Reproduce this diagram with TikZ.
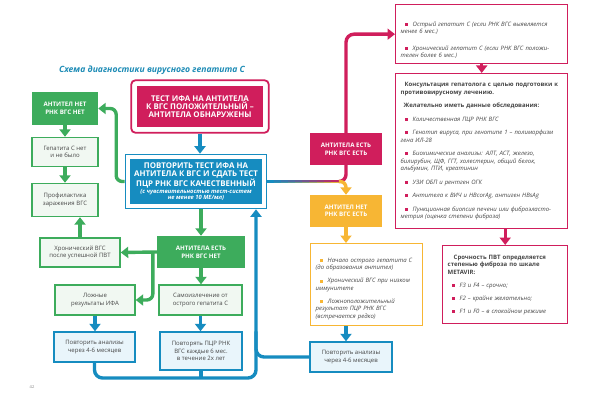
\documentclass[tikz,border=0pt]{standalone}
\usepackage{fontspec}
\setmainfont{Open Sans}
\usetikzlibrary{arrows.meta,positioning,fit,calc}
\definecolor{mygreen}{RGB}{61,172,92}
\definecolor{mylightgreen}{RGB}{241,248,242}
\definecolor{myblue}{RGB}{22,140,192}
\definecolor{mylightblue}{RGB}{233,245,251}
\definecolor{mypink}{RGB}{208,30,92}
\definecolor{myorange}{RGB}{247,182,52}
\definecolor{mytitle}{RGB}{30,140,182}
\definecolor{mytext}{RGB}{70,70,70}

\newcommand{\bitem}[2][mypink]{\par\hangindent=12pt\hangafter=1\noindent
  \makebox[12pt][l]{\hspace{4pt}\textcolor{#1}{\rule[0.4pt]{3pt}{3pt}}}#2\par}

\begin{document}
\begin{tikzpicture}[
  x=1pt, y=-1pt,
  bigfont/.style={font=\bfseries\fontsize{7.9}{8.3}\selectfont},
  pinkfill/.style={fill=mypink, text=white, align=center, bigfont},
  pinkframe/.style={draw=mypink, line width=1.8pt, rounded corners=4pt, inner sep=5.5pt},
  bluefill/.style={fill=myblue, text=white, align=center, bigfont},
  blueframe/.style={draw=myblue, line width=1.2pt, inner sep=4.5pt},
  greenfill/.style={fill=mygreen, text=white, align=center,
    font=\bfseries\fontsize{6.2}{7.6}\selectfont},
  greenbox/.style={draw=mygreen, line width=1.4pt, fill=mylightgreen, text=mytext,
    align=center, font=\fontsize{6}{7.6}\selectfont},
  bluebox/.style={draw=myblue, line width=1.4pt, fill=mylightblue, text=mytext,
    align=center, font=\fontsize{6}{7.6}\selectfont},
  orangefill/.style={fill=myorange, text=white, align=center,
    font=\bfseries\fontsize{6.2}{7.6}\selectfont},
  listbox/.style={draw=#1, line width=1.4pt, fill=white, text=mytext,
    anchor=north west, inner sep=5pt, font=\itshape\fontsize{6}{7.5}\selectfont,
    execute at begin node={\raggedright\setlength{\parskip}{6pt}}},
  garrow/.style={draw=mygreen, line width=3.4pt, -{Triangle[width=11pt,length=7.5pt]}},
  barrow/.style={draw=myblue, line width=3.4pt, -{Triangle[width=11pt,length=7.5pt]}},
  parrow/.style={draw=mypink, line width=3.4pt, -{Triangle[width=11pt,length=7.5pt]}},
  oarrow/.style={draw=myorange, line width=3.4pt, -{Triangle[width=11pt,length=7.5pt]}},
  bline/.style={draw=myblue, line width=3.4pt}
]
\useasboundingbox (0,0) rectangle (604,406);
\fill[white] (0,0) rectangle (604,406);

\node[font=\bfseries\itshape\fontsize{8.6}{10}\selectfont, text=mytitle] (title) at (152,70)
  {Схема диагностики вирусного гепатита С};

% top of the scheme
\node[pinkfill, minimum width=126pt, minimum height=41pt] (ifa) at (200,106.5)
  {ТЕСТ ИФА НА АНТИТЕЛА\\К ВГС ПОЛОЖИТЕЛЬНЫЙ –\\АНТИТЕЛА ОБНАРУЖЕНЫ};
\node[pinkframe, fit=(ifa)] (ifaf) {};

\node[bluefill, minimum width=132pt, minimum height=45pt] (main) at (196,181.5)
  {ПОВТОРИТЬ ТЕСТ ИФА НА\\АНТИТЕЛА К ВГС И СДАТЬ ТЕСТ\\ПЦР РНК ВГС КАЧЕСТВЕННЫЙ\\[-1.5pt]
   {\itshape\fontsize{5.8}{6.6}\selectfont (с чувствительностью тест-систем}\\[-1.8pt]
   {\itshape\fontsize{5.8}{6.6}\selectfont не менее 10 МЕ/мл)}};
\node[blueframe, fit=(main)] (mainf) {};

% left branch
\node[greenfill, minimum width=66pt, minimum height=33pt] (an1) at (65,108.5) {АНТИТЕЛ НЕТ\\РНК ВГС НЕТ};
\node[greenbox, minimum width=66pt, minimum height=29pt] (nohep) at (65,152) {Гепатита С нет\\и не было};
\node[greenbox, minimum width=66pt, minimum height=33pt] (prof) at (65,200) {Профилактика\\заражения ВГС};
\node[greenbox, minimum width=80pt, minimum height=29pt] (chron) at (80,252.5) {Хронический ВГС\\после успешной ПВТ};
\node[greenfill, minimum width=88pt, minimum height=32pt] (an2) at (201,252) {АНТИТЕЛА ЕСТЬ\\РНК ВГС НЕТ};
\node[greenbox, minimum width=80pt, minimum height=30pt] (false) at (95,300) {Ложные\\результаты ИФА};
\node[greenbox, minimum width=83pt, minimum height=30pt] (self) at (200.5,300) {Самоизлечение от\\острого гепатита С};
\node[bluebox, minimum width=81pt, minimum height=30pt] (rep1) at (94.5,347) {Повторить анализы\\через 4-6 месяцев};
\node[bluebox, minimum width=82pt, minimum height=38pt] (rep2) at (201,351) {Повторять ПЦР РНК\\ВГС каждые 6 мес.\\в течение 2х лет};

% right branch
\node[pinkfill, font=\bfseries\fontsize{6.2}{7.6}\selectfont, minimum width=72pt, minimum height=32pt]
  (an3) at (346,149) {АНТИТЕЛА ЕСТЬ\\РНК ВГС ЕСТЬ};
\node[orangefill, minimum width=72pt, minimum height=32pt] (an4) at (346,211) {АНТИТЕЛ НЕТ\\РНК ВГС ЕСТЬ};
\node[listbox=myorange, text width=102pt, minimum height=82pt] (obox) at (310,243) {%
  \setlength{\parskip}{5.5pt}%
  \bitem[myorange]{Начало острого гепатита С\\(до образования антител)}
  \bitem[myorange]{Хронический ВГС при низком\\иммунитете}
  \bitem[myorange]{Ложноположительный\\результат ПЦР РНК ВГС\\(встречается редко)}};
\node[bluebox, minimum width=82pt, minimum height=30pt] (rep3) at (351,357) {Повторить анализы\\через 4-6 месяцев};

\node[listbox=mypink, text width=162pt, minimum height=53pt] (acute) at (395,4) {%
  \setlength{\parskip}{9pt}%
  \bitem{Острый гепатит С (если РНК ВГС выявляется\\менее 6 мес.)}
  \bitem{Хронический гепатит С (если РНК ВГС положи-\\телен более 6 мес.)}};
\node[listbox=mypink, text width=162pt, minimum height=155pt] (cons) at (395,73) {%
  {\bfseries\upshape\hspace*{4pt}Консультация гепатолога с целью подготовки к\\противовирусному лечению.\par}
  {\bfseries\upshape\hspace*{3pt}Желательно иметь данные обследования:\par}
  \bitem{Количественная ПЦР РНК ВГС}
  \bitem{Генотип вируса, при генотипе 1 – полиморфизм\\гена ИЛ-28}
  \bitem{Биохимические анализы: АЛТ, АСТ, железо,\\билирубин, ЩФ, ГГТ, холестерин, общий белок,\\альбумин, ПТИ, креатинин}
  \bitem{УЗИ ОБП и рентген ОГК}
  \bitem{Антитела к ВИЧ и HBcorAg, антиген HBsAg}
  \bitem{Пункционная биопсия печени или фиброэласто-\\метрия (оценка степени фиброза)}};
\node[listbox=mypink, text width=115pt, minimum height=78pt] (urg) at (442,245) {%
  \setlength{\parskip}{5.5pt}%
  {\bfseries\upshape\hspace*{6pt}Срочность ПВТ определяется\\степенью фиброза по шкале\\METAVIR:\par}
  \bitem{F3 и F4 – срочно;}
  \bitem{F2 – крайне желательно;}
  \bitem{F1 и F0 – в спокойном режиме}};

\node[font=\fontsize{4}{5}\selectfont, text=gray] (page) at (32,387) {42};

% connectors, left
\draw[barrow] (ifaf.south) -- (ifaf.south |- mainf.north);
\draw[garrow, rounded corners=6pt] (mainf.west) -| ([xshift=18pt]an1.east) -- (an1.east);
\draw[garrow] (an1.south) -- (nohep.north);
\draw[garrow] (nohep.south) -- (prof.north);
\draw[garrow] (chron.north) -- (chron.north |- prof.south);
\draw[garrow] (an2.north |- mainf.south) -- (an2.north);
\draw[garrow] (an2.west) -- (chron.east);
\draw[garrow, rounded corners=6pt] ([xshift=-4pt]an2.west) |- (false.east);
\draw[garrow] (an2.south) -- (an2.south |- self.north);
\draw[barrow] (false.south) -- (false.south |- rep1.north);
\draw[barrow] (self.south) -- (self.south |- rep2.north);
\coordinate (loop) at (256,378);
\draw[barrow, rounded corners=8pt] (rep1.south) |- (loop) -- (loop |- mainf.south);
\draw[bline] (rep2.south) -- (rep2.south |- loop);
\draw[bline, rounded corners=8pt] (rep3.west) -| (loop |- rep2.north);

% connectors, right
\coordinate (split) at (mainf.east -| an3.south);
\coordinate (gr) at ($(mainf.east)!0.91!(split)$);
\foreach \k [evaluate=\k as \ta using \k/10, evaluate=\k as \tb using \k/10+0.1,
             evaluate=\k as \pc using int(100-10*\k)] in {0,...,9} {
  \draw[line width=1.7pt, line cap=rect, myblue!\pc!mypink]
    ([yshift=0.85pt]$(mainf.east)!\ta!(gr)$) -- ([yshift=0.85pt]$(mainf.east)!\tb!(gr)$);
  \draw[line width=1.7pt, line cap=rect, myblue!\pc!myorange]
    ([yshift=-0.85pt]$(mainf.east)!\ta!(gr)$) -- ([yshift=-0.85pt]$(mainf.east)!\tb!(gr)$);
}
\draw[draw=mypink, line width=3.4pt, rounded corners=7pt] (gr) -- (split) -- (an3.south);
\draw[oarrow, rounded corners=6pt] (gr) -- (split) -- (an4.north);
\draw[parrow, rounded corners=8pt] (an3.north) |- (acute.west);
\draw[parrow] (acute.south) -- (acute.south |- cons.north);
\draw[parrow] (urg.north |- cons.south) -- (urg.north);
\draw[oarrow] (an4.south) -- (an4.south |- obox.north);
\draw[barrow] (an4.south |- obox.south) -- (an4.south |- rep3.north);

\end{tikzpicture}
\end{document}
